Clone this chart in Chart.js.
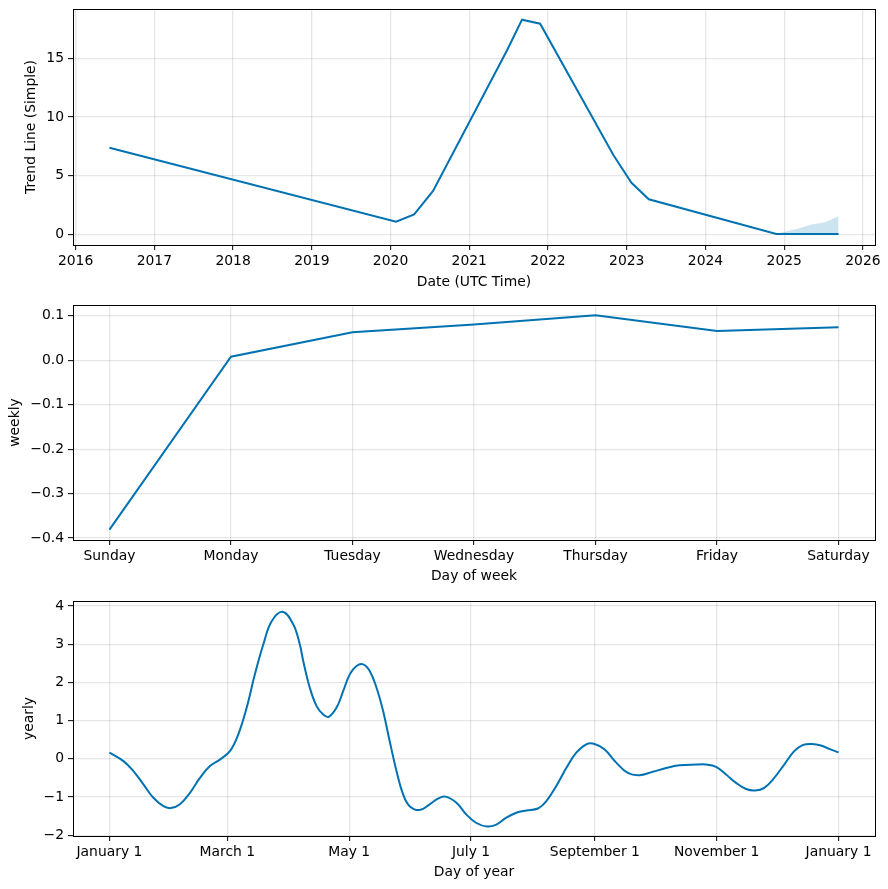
<!DOCTYPE html>
<html><head><meta charset="utf-8">
<script src="https://cdn.jsdelivr.net/npm/chart.js@4"></script>
<style>
html,body{margin:0;padding:0;background:#fff;width:888px;height:889px;overflow:hidden}
.p{position:absolute;left:0;width:888px}
canvas{display:block}
</style></head><body>
<div class="p" style="top:0"><canvas id="c1" width="888" height="296"></canvas></div>
<div class="p" style="top:296px"><canvas id="c2" width="888" height="294"></canvas></div>
<div class="p" style="top:590px"><canvas id="c3" width="888" height="299"></canvas></div>
<script>
// ---- data ----
const trendYears  = [2016.43, 2020.07, 2020.30, 2020.54, 2021.48, 2021.67, 2021.90, 2022.83, 2023.06, 2023.28, 2024.90, 2025.69];
const trendValues = [7.37, 1.08, 1.70, 3.69, 15.68, 18.29, 17.95, 6.75, 4.39, 2.98, 0.03, 0.03];
const bandYears = [2024.90, 2025.05, 2025.18, 2025.35, 2025.52, 2025.69];
const bandUpper = [0.05, 0.28, 0.49, 0.83, 1.02, 1.53];
const bandLower = [0.0, 0.0, 0.0, 0.0, 0.0, 0.0];
const yearTicks = [2016, 2017, 2018, 2019, 2020, 2021, 2022, 2023, 2024, 2025, 2026];
const trendTicks = [0, 5, 10, 15];

const weekDays = ['Sunday', 'Monday', 'Tuesday', 'Wednesday', 'Thursday', 'Friday', 'Saturday'];
const weeklyValues = [-0.381, 0.008, 0.063, 0.0805, 0.1015, 0.066, 0.0745];
const weeklyTicks = [-0.4, -0.3, -0.2, -0.1, 0.0, 0.1];

const yearlyDays = [0, 7, 12, 17, 22, 27, 30.7, 35.3, 40.3, 45.3, 50.3, 55.3, 60.3, 64.5, 68.7, 72.8, 77, 81.2, 86.7, 92, 95.3,
  97, 100.3, 103.7, 107, 109.8, 113.7, 117, 120.3, 123.7, 127, 130.3, 133.7, 137, 140.3, 143.7, 147, 150.3, 155.3, 160.3, 164.5, 168.2,
  173.7, 178.7, 183.7, 189, 193.7, 198.7, 203.7, 208.7, 214.5, 218.7, 223.7, 228.7, 233.7, 238.7, 242.8, 247.8, 253.7, 259.5, 265.3,
  272, 278.7, 285.3, 293.7, 298.7, 303.7, 308.7, 313.7, 318.7, 323.3, 327.8, 332.8, 337.8, 342.8, 347, 351.7, 356.2, 360.3, 365];
const yearlyValues = [0.16, -0.06, -0.32, -0.67, -1.02, -1.24, -1.29, -1.19, -0.89, -0.50, -0.19, -0.02, 0.20, 0.64, 1.34, 2.21, 2.99, 3.60, 3.85, 3.52, 2.99,
  2.56, 1.86, 1.38, 1.16, 1.10, 1.34, 1.77, 2.21, 2.43, 2.47, 2.30, 1.86, 1.25, 0.46, -0.32, -0.93, -1.24, -1.34, -1.19, -1.04, -0.99,
  -1.15, -1.46, -1.68, -1.77, -1.72, -1.54, -1.41, -1.35, -1.30, -1.11, -0.71, -0.24, 0.16, 0.38, 0.39, 0.25, -0.10, -0.37, -0.43,
  -0.34, -0.24, -0.17, -0.15, -0.15, -0.21, -0.41, -0.63, -0.79, -0.83, -0.76, -0.50, -0.15, 0.20, 0.36, 0.39, 0.35, 0.26, 0.17];
const monthTickDays = [0, 59, 120, 181, 243, 304, 365];
const monthTickLabels = ['January 1', 'March 1', 'May 1', 'July 1', 'September 1', 'November 1', 'January 1'];
const yearlyTicks = [-2, -1, 0, 1, 2, 3, 4];

// ---- style ----
const BLUE = '#0072B2';
const FONT = {family: 'DejaVu Sans', size: 13.9};
const GRID = 'rgba(128,128,128,0.2)';
const minus = s => String(s).replace('-', '\u2212');
const pts = (xs, ys) => xs.map((x, i) => ({x: x, y: ys[i]}));

const frame = {
  id: 'frame',
  afterDraw(chart) {
    const a = chart.chartArea, c = chart.ctx;
    c.save(); c.strokeStyle = '#000'; c.lineWidth = 1;
    c.strokeRect(Math.round(a.left) + 0.5, Math.round(a.top) + 0.5, Math.round(a.right - a.left), Math.round(a.bottom - a.top));
    c.restore();
  }
};

function xScale(min, max, ticks, labelFn, height, title, tpb) {
  return {
    type: 'linear', min: min, max: max,
    afterBuildTicks: s => { s.ticks = ticks.map(v => ({value: v})); },
    afterFit: s => { s.height = height; s.paddingLeft = 0; s.paddingRight = 0; },
    grid: {color: GRID, lineWidth: 1.3, tickColor: '#000', tickLength: 5, tickWidth: 1, drawTicks: true},
    border: {color: '#000', width: 1},
    ticks: {color: '#000', font: FONT, padding: 3, maxRotation: 0, autoSkip: false, callback: labelFn},
    title: {display: true, text: title, color: '#000', font: FONT, padding: {top: 0, bottom: tpb}}
  };
}
function yScale(min, max, ticks, labelFn, title, tpt) {
  return {
    type: 'linear', min: min, max: max,
    afterBuildTicks: s => { s.ticks = ticks.map(v => ({value: v})); },
    afterFit: s => { s.width = 73; s.paddingTop = 0; s.paddingBottom = 0; },
    grid: {color: GRID, lineWidth: 1.3, tickColor: '#000', tickLength: 5, tickWidth: 1, drawTicks: true},
    border: {color: '#000', width: 1},
    ticks: {color: '#000', font: FONT, padding: 4, autoSkip: false, callback: labelFn},
    title: {display: true, text: title, color: '#000', font: FONT, padding: {top: tpt, bottom: 0}}
  };
}
const common = (padTop) => ({
  responsive: false, animation: false, events: [],
  layout: {padding: {top: padTop, right: 13, left: 0, bottom: 0}},
  plugins: {legend: {display: false}, tooltip: {enabled: false}}
});

// ---- chart 1: trend ----
new Chart(document.getElementById('c1'), {
  type: 'line',
  data: {datasets: [
    {data: pts(bandYears, bandLower), borderWidth: 0, pointRadius: 0, fill: false},
    {data: pts(bandYears, bandUpper), borderWidth: 0, pointRadius: 0, fill: 0, backgroundColor: 'rgba(0,114,178,0.2)'},
    {data: pts(trendYears, trendValues), borderColor: BLUE, borderWidth: 2, pointRadius: 0, tension: 0, fill: false}
  ]},
  options: Object.assign(common(9), {
    scales: {
      x: xScale(2015.967, 2026.153, yearTicks, v => String(v), 51, 'Date (UTC Time)', 5),
      y: yScale(-0.915, 19.2, trendTicks, v => minus(v), 'Trend Line (Simple)', 23)
    }
  }),
  plugins: [frame]
});

// ---- chart 2: weekly ----
new Chart(document.getElementById('c2'), {
  type: 'line',
  data: {datasets: [
    {data: pts(weekDays.map((d, i) => i), weeklyValues), borderColor: BLUE, borderWidth: 2, pointRadius: 0, tension: 0, fill: false}
  ]},
  options: Object.assign(common(9), {
    scales: {
      x: xScale(-0.3, 6.3, weekDays.map((d, i) => i), v => weekDays[Math.round(v)], 50, 'Day of week', 5),
      y: yScale(-0.4043, 0.1243, weeklyTicks, v => minus(v.toFixed(1)), 'weekly', 7)
    }
  }),
  plugins: [frame]
});

// ---- chart 3: yearly ----
new Chart(document.getElementById('c3'), {
  type: 'line',
  data: {datasets: [
    {data: pts(yearlyDays, yearlyValues), borderColor: BLUE, borderWidth: 2, pointRadius: 0, tension: 0.4, fill: false}
  ]},
  options: Object.assign(common(11), {
    scales: {
      x: xScale(-18.25, 383.25, monthTickDays, v => monthTickLabels[monthTickDays.indexOf(v)], 53, 'Day of year', 8),
      y: yScale(-2.02, 4.13, yearlyTicks, v => minus(v), 'yearly', 21)
    }
  }),
  plugins: [frame]
});
</script>
</body></html>
